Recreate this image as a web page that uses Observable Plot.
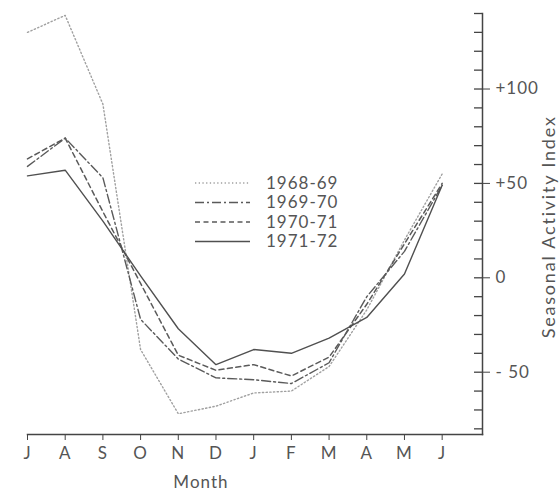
<!DOCTYPE html>
<html><head><meta charset="utf-8">
<script src="https://cdn.jsdelivr.net/npm/d3@7"></script>
<script src="https://cdn.jsdelivr.net/npm/@observablehq/plot@0.6"></script>
<style>
body{margin:0;background:#fff;}
#wrap{position:relative;width:559px;height:491px;font-family:Lato,"Open Sans",sans-serif;color:#555;}
#wrap svg text{letter-spacing:1px;}
#legend{position:absolute;left:0;top:0;}
</style></head><body>
<div id="wrap"></div>
<script>
// ---- data ----
const months = ["J","A","S","O","N","D","J","F","M","A","M","J"];
const seasons = ["1968-69","1969-70","1970-71","1971-72"];
const s1968 = [130, 139, 92, -38, -72, -68, -61, -60, -47, -17, 20, 55];
const s1969 = [59, 74, 53, -22, -43, -53, -54, -56, -45, -10, 14, 49];
const s1970 = [63, 74, 35, -3, -41, -49, -46, -52, -42, -14, 18, 50];
const s1971 = [54, 57, 30, 1, -27, -46, -38, -40, -32, -21, 2, 49];
const yMajor = [-50, 0, 50, 100];
const yMinor = d3.range(-80, 141, 10);
const xTitle = "Month";
const yTitle = "Seasonal Activity Index";

// ---- styles ----
const lineStyle = {
  "1968-69": {stroke:"#a0a0a0", strokeWidth:1.4, dash:"1.3,2.4"},
  "1969-70": {stroke:"#5a5a5a", strokeWidth:1.4, dash:"9,3,2,3"},
  "1970-71": {stroke:"#5a5a5a", strokeWidth:1.5, dash:"5,3.5"},
  "1971-72": {stroke:"#505050", strokeWidth:1.4, dash:null}
};
const seriesVals = [s1968, s1969, s1970, s1971];
const rows = seasons.flatMap((s, k) => seriesVals[k].map((v, i) => ({season:s, i, v})));

const xMax = 12.07;
const fmt = d => d > 0 ? "+" + d : d < 0 ? "- " + (-d) : "0";

const marks = [
  Plot.frame({anchor:"bottom", stroke:"#444", strokeWidth:1.5}),
  Plot.frame({anchor:"right", stroke:"#444", strokeWidth:1.5}),
  Plot.axisX({ticks:d3.range(12), tickFormat:i => months[i], tickSize:6, tickPadding:6, label:null, stroke:"#444", fill:"#555"}),
  Plot.axisY({anchor:"right", ticks:yMajor, tickFormat:fmt, tickSize:7, tickPadding:6, label:null, stroke:"#444", fill:"#555"}),
  Plot.ruleY(yMinor, {y:d => d, x1:xMax, x2:xMax, insetLeft:-8, stroke:"#444", strokeWidth:1.3}),
  ...seasons.map(s => Plot.line(rows.filter(r => r.season === s), {
    x:"i", y:"v", stroke:lineStyle[s].stroke, strokeWidth:lineStyle[s].strokeWidth,
    strokeDasharray:lineStyle[s].dash || undefined
  })),
  Plot.text([xTitle], {text:d => d, x:4.6, frameAnchor:"bottom", lineAnchor:"middle", dy:48, fill:"#555"}),
  Plot.text([yTitle], {text:d => d, frameAnchor:"right", textAnchor:"middle", lineAnchor:"middle", y:27, rotate:-90, dx:67, fill:"#555", fontSize:18})
];

const chart = Plot.plot({
  width:559, height:491,
  marginLeft:27, marginRight:77, marginTop:13, marginBottom:57,
  style:{fontFamily:"Lato, 'Open Sans', sans-serif", fontSize:"17px", background:"#fff", color:"#555"},
  x:{domain:[0, xMax]},
  y:{domain:[-83, 140]},
  marks
});
const wrap = document.getElementById("wrap");
wrap.appendChild(chart);
d3.select(chart).selectAll("text").filter(function(){ return this.textContent === yTitle; })
  .style("letter-spacing", "1.8px");

// ---- legend ----
const ns = "http://www.w3.org/2000/svg";
const leg = document.createElementNS(ns, "svg");
leg.setAttribute("id", "legend");
leg.setAttribute("width", 559);
leg.setAttribute("height", 491);
seasons.forEach((s, k) => {
  const y = 183 + k * 19.5;
  const ln = document.createElementNS(ns, "line");
  ln.setAttribute("x1", 195); ln.setAttribute("x2", 250);
  ln.setAttribute("y1", y); ln.setAttribute("y2", y);
  ln.setAttribute("stroke", lineStyle[s].stroke);
  ln.setAttribute("stroke-width", lineStyle[s].strokeWidth);
  if (lineStyle[s].dash) ln.setAttribute("stroke-dasharray", lineStyle[s].dash);
  leg.appendChild(ln);
  const t = document.createElementNS(ns, "text");
  t.setAttribute("x", 266); t.setAttribute("y", y);
  t.setAttribute("dy", "0.35em");
  t.setAttribute("fill", "#555");
  t.setAttribute("font-size", "17px");
  t.setAttribute("letter-spacing", "1px");
  t.setAttribute("font-family", "Lato, 'Open Sans', sans-serif");
  t.textContent = s;
  leg.appendChild(t);
});
wrap.appendChild(leg);
</script>
</body></html>
